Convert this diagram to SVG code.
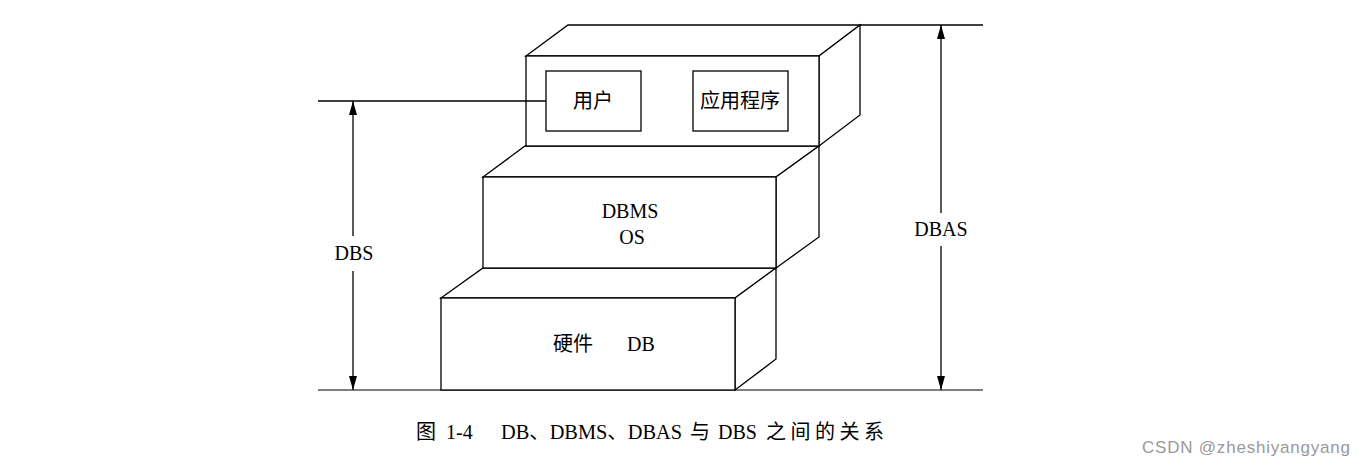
<svg xmlns="http://www.w3.org/2000/svg" width="1364" height="469" viewBox="0 0 1364 469">
<style>
.ln{stroke:#000;stroke-width:1.3;fill:none}
.bx{stroke:#000;stroke-width:1.3;fill:#fff;stroke-linejoin:miter}
.t{font-family:"Liberation Serif","Noto Sans CJK SC",serif;font-size:20px;fill:#000}
.c{text-anchor:middle}
</style>
<defs>
<marker id="ah" viewBox="0 0 14 8" refX="14" refY="4" markerWidth="14" markerHeight="8" markerUnits="userSpaceOnUse" orient="auto-start-reverse">
<path d="M0,0 L14,4 L0,8 Z" fill="#000"/>
</marker>
</defs>
<rect width="1364" height="469" fill="#fff"/>

<g id="ground">
<line x1="318" y1="390" x2="983" y2="390" stroke="#808080" stroke-width="2"/>
</g>

<g id="box-bottom">
<polygon class="bx" points="441,298 483,268 776,268 735,298"/>
<polygon class="bx" points="735,298 776,268 776,359 735,390"/>
<rect class="bx" x="441" y="298" width="294" height="92"/>
<text class="t" x="553" y="351" font-size="21">硬件</text>
<text class="t" x="627" y="351" font-size="21">DB</text>
</g>

<g id="box-middle">
<polygon class="bx" points="483,177 525,146 819,146 776,177"/>
<polygon class="bx" points="776,177 819,146 819,237 776,268"/>
<rect class="bx" x="483" y="177" width="293" height="91"/>
<text class="t c" x="630" y="218">DBMS</text>
<text class="t c" x="632" y="244">OS</text>
</g>

<g id="box-top">
<polygon class="bx" points="526,56 568,25 860,25 819,56"/>
<polygon class="bx" points="819,56 860,25 860,115 819,146"/>
<rect class="bx" x="526" y="56" width="293" height="90"/>
</g>

<g id="node-user">
<rect class="bx" x="546" y="71" width="95" height="60"/>
<text class="t c" x="593" y="108">用户</text>
</g>

<g id="node-app">
<rect class="bx" x="693" y="71" width="95" height="60"/>
<text class="t c" x="740" y="108" font-size="21">应用程序</text>
</g>

<g id="connectors">
<line class="ln" x1="318" y1="101" x2="546" y2="101"/>
<line class="ln" x1="860" y1="25" x2="983" y2="25"/>
<line class="ln" x1="353" y1="236" x2="353" y2="101" marker-end="url(#ah)"/>
<line class="ln" x1="353" y1="271" x2="353" y2="390" marker-end="url(#ah)"/>
<line class="ln" x1="941" y1="213" x2="941" y2="25" marker-end="url(#ah)"/>
<line class="ln" x1="941" y1="246" x2="941" y2="390" marker-end="url(#ah)"/>
</g>

<g id="label-dbs">
<text class="t c" x="354" y="260">DBS</text>
</g>
<g id="label-dbas">
<text class="t c" x="941" y="236">DBAS</text>
</g>

<g id="caption">
<text class="t" x="416" y="439" font-size="21">图</text>
<text class="t" x="446" y="439" font-size="21">1-4</text>
<text class="t" x="501" y="439" font-size="21" textLength="181" lengthAdjust="spacingAndGlyphs">DB、DBMS、DBAS</text>
<text class="t" x="690" y="439" font-size="21">与</text>
<text class="t" x="718" y="439" font-size="21">DBS</text>
<text class="t" x="766" y="439" font-size="21" textLength="118">之间的关系</text>
</g>

<g id="watermark">
<text x="1142" y="453" font-family="Liberation Sans, Arial, sans-serif" font-size="17" fill="#999" textLength="208">CSDN @zheshiyangyang</text>
</g>
</svg>
